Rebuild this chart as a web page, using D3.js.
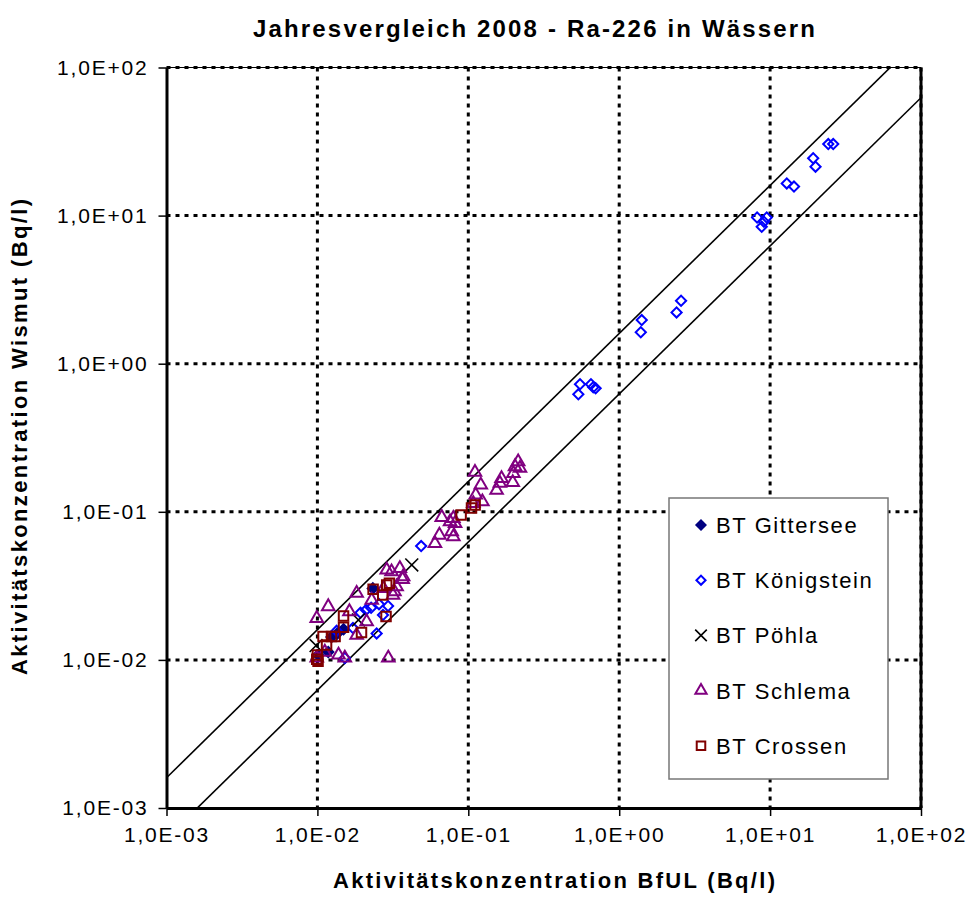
<!DOCTYPE html>
<html>
<head>
<meta charset="utf-8">
<title>Jahresvergleich 2008 - Ra-226 in Wässern</title>
<script src="https://d3js.org/d3.v7.min.js"></script>
<style>
body {
  margin: 0;
  background: #fff;
}
#chart text {
  font-family: Arial, "Liberation Sans", sans-serif;
  fill: #000;
}
</style>
</head>
<body>
<div id="chart"></div>
<script>
// [BfUL, Wismut] in Bq/l
var gittersee = [
  [0.0124, 0.0143], [0.0118, 0.0113], [0.0101, 0.0108], [0.0149, 0.0161],
  [0.0233, 0.0304], [0.0135, 0.0150]
];
var koenigstein = [
  [0.0134, 0.0157], [0.0172, 0.0164], [0.0193, 0.0208], [0.0210, 0.0217],
  [0.0227, 0.0225], [0.0256, 0.0238], [0.0294, 0.0231], [0.0272, 0.0201],
  [0.0247, 0.0151], [0.0152, 0.0103], [0.0487, 0.0587],
  [0.550, 0.726], [0.536, 0.621], [0.650, 0.726], [0.673, 0.694], [0.698, 0.683],
  [1.41, 1.97], [1.39, 1.63], [2.57, 2.66], [2.40, 2.22],
  [8.2, 9.7], [9.5, 9.7], [8.8, 8.4], [9.1, 9.1], [12.9, 16.5], [14.4, 15.7],
  [19.3, 24.4], [20.0, 21.4], [24.3, 30.4], [26.2, 30.4]
];
var poehla = [
  [0.0422, 0.0438], [0.0187, 0.0186], [0.0098, 0.0125]
];
var schlema = [
  [0.1107, 0.185], [0.121, 0.152], [0.112, 0.130], [0.124, 0.117], [0.108, 0.114],
  [0.154, 0.140], [0.162, 0.156], [0.166, 0.168], [0.197, 0.158], [0.199, 0.182],
  [0.214, 0.218], [0.220, 0.197], [0.204, 0.202],
  [0.0667, 0.0918], [0.0757, 0.0857], [0.0796, 0.0904], [0.0817, 0.0836],
  [0.0776, 0.0735], [0.0796, 0.0679], [0.0643, 0.0697], [0.0601, 0.0612],
  [0.0352, 0.0415], [0.0310, 0.0394], [0.0370, 0.0365], [0.0288, 0.0405],
  [0.0367, 0.0350], [0.0324, 0.0289], [0.0335, 0.0312], [0.0317, 0.0274],
  [0.0274, 0.0304], [0.0229, 0.0253], [0.0182, 0.0282], [0.0118, 0.0229],
  [0.0099, 0.0191], [0.0163, 0.0212], [0.0212, 0.0181], [0.0182, 0.0147],
  [0.0295, 0.0103], [0.0152, 0.0103], [0.0138, 0.0108], [0.0112, 0.0113],
  [0.0099, 0.0103]
];
var crossen = [
  [0.0896, 0.095], [0.105, 0.106], [0.111, 0.111], [0.0234, 0.0300],
  [0.0271, 0.0274], [0.0288, 0.0321], [0.0300, 0.0329], [0.0285, 0.0196],
  [0.0149, 0.0198], [0.0149, 0.0166], [0.0196, 0.0153], [0.0109, 0.0144],
  [0.0124, 0.0144], [0.0131, 0.0144], [0.0115, 0.0126], [0.0099, 0.0101],
  [0.0100, 0.0108], [0.0101, 0.0098]
];

var seriesNames = ["BT Gittersee", "BT Königstein", "BT Pöhla", "BT Schlema", "BT Crossen"];
var tickValues = [1e-3, 1e-2, 1e-1, 1e0, 1e1, 1e2];
var tickLabels = ["1,0E-03", "1,0E-02", "1,0E-01", "1,0E+00", "1,0E+01", "1,0E+02"];
var bandFactors = [1.6, 1 / 1.6];   // the two diagonal limit lines, y = f * x

var series = [
  {name: seriesNames[0], data: gittersee,   shape: "diamond",  color: "#000080", fill: true},
  {name: seriesNames[1], data: koenigstein, shape: "diamond",  color: "#0000ff", fill: false},
  {name: seriesNames[2], data: poehla,      shape: "times",    color: "#000000", fill: false},
  {name: seriesNames[3], data: schlema,     shape: "triangle", color: "#800080", fill: false},
  {name: seriesNames[4], data: crossen,     shape: "square",   color: "#800000", fill: false}
];

var W = 973, H = 908;
var plotL = 166.5, plotR = 921, plotT = 67.5, plotB = 808;

var svg = d3.select("#chart").append("svg")
  .attr("width", W)
  .attr("height", H);

var x = d3.scaleLog().domain([1e-3, 1e2]).range([plotL, plotR]);
var y = d3.scaleLog().domain([1e-3, 1e2]).range([plotB, plotT]);

// grid
svg.append("g").selectAll("line").data(tickValues.slice(1)).enter().append("line")
  .attr("x1", d => x(d)).attr("x2", d => x(d))
  .attr("y1", plotT).attr("y2", plotB)
  .attr("stroke", "#000").attr("stroke-width", 3).attr("stroke-dasharray", "4,5");
svg.append("g").selectAll("line").data(tickValues.slice(1)).enter().append("line")
  .attr("x1", plotL).attr("x2", plotR)
  .attr("y1", d => y(d)).attr("y2", d => y(d))
  .attr("stroke", "#000").attr("stroke-width", 3).attr("stroke-dasharray", "4,5");

// frame
svg.append("line").attr("x1", plotL).attr("x2", plotR).attr("y1", plotT).attr("y2", plotT)
  .attr("stroke", "#000").attr("stroke-width", 1);
svg.append("line").attr("x1", plotR).attr("x2", plotR).attr("y1", plotT).attr("y2", plotB)
  .attr("stroke", "#000").attr("stroke-width", 3);

// diagonal limit lines
svg.append("clipPath").attr("id", "plotclip").append("rect")
  .attr("x", plotL).attr("y", plotT).attr("width", plotR - plotL).attr("height", plotB - plotT);
var lineGen = d3.line().x(d => x(d[0])).y(d => y(d[1]));
svg.append("g").attr("clip-path", "url(#plotclip)")
  .selectAll("path").data(bandFactors).enter().append("path")
  .attr("d", f => lineGen(x.domain().map(v => [v, v * f])))
  .attr("fill", "none").attr("stroke", "#000").attr("stroke-width", 1.6);

// axes
var fmt = d => tickLabels[tickValues.indexOf(d)];
var xAxis = svg.append("g")
  .attr("transform", "translate(0," + plotB + ")")
  .call(d3.axisBottom(x).tickValues(tickValues).tickFormat(fmt).tickSize(8).tickSizeOuter(0));
var yAxis = svg.append("g")
  .attr("transform", "translate(" + plotL + ",0)")
  .call(d3.axisLeft(y).tickValues(tickValues).tickFormat(fmt).tickSize(8).tickSizeOuter(0));
[xAxis, yAxis].forEach(function (g) {
  g.select(".domain").attr("stroke", "#000").attr("stroke-width", 3);
  g.selectAll(".tick line").attr("stroke", "#000").attr("stroke-width", 1.5);
  g.selectAll(".tick text")
    .style("font-size", "21px")
    .style("letter-spacing", "1.8px")
    .attr("fill", "#000");
});
xAxis.selectAll(".tick text").attr("y", 19);
yAxis.selectAll(".tick text").attr("x", -18);

// markers
function symbolPath(shape, scale) {
  var s = scale || 1;
  if (shape === "diamond") return d3.symbol(d3.symbolSquare, 52 * s * s)();
  if (shape === "triangle") return d3.symbol(d3.symbolTriangle, 68 * s * s)();
  if (shape === "square") return d3.symbol(d3.symbolSquare, 90 * s * s)();
  return d3.symbol(d3.symbolTimes || d3.symbolCross, 110 * s * s)();
}
function drawMark(sel, sr, scale) {
  sel.attr("d", symbolPath(sr.shape, scale))
    .attr("fill", sr.fill ? sr.color : "none")
    .attr("stroke", sr.color)
    .attr("stroke-width", sr.shape === "times" ? 1.6 : 2)
    .attr("stroke-linejoin", "miter");
}

series.forEach(function (sr) {
  svg.append("g").selectAll("path").data(sr.data).enter().append("path")
    .attr("transform", d => "translate(" + x(d[0]) + "," + y(d[1]) + ")" + (sr.shape === "diamond" ? " rotate(45)" : ""))
    .call(drawMark, sr, 1);
});

// legend
var lg = svg.append("g").attr("transform", "translate(669,498)");
lg.append("rect").attr("width", 219).attr("height", 281)
  .attr("fill", "#fff").attr("stroke", "#777").attr("stroke-width", 1.5);
var item = lg.selectAll("g.item").data(series).enter().append("g")
  .attr("class", "item")
  .attr("transform", (d, i) => "translate(32," + (27 + i * 55.2) + ")");
item.append("path")
  .attr("transform", d => d.shape === "diamond" ? "rotate(45)" : null)
  .each(function (d) { d3.select(this).call(drawMark, d, 0.9); });
item.append("text")
  .attr("x", 15).attr("dy", "0.36em")
  .style("font-size", "22px")
  .style("letter-spacing", "1.6px")
  .text(d => d.name);

// titles
function fit(sel, len) {
  sel.attr("textLength", len).attr("lengthAdjust", "spacing");
}
svg.append("text")
  .attr("x", 534).attr("y", 37)
  .attr("text-anchor", "middle")
  .style("font-size", "24px").style("font-weight", "bold")
  .text("Jahresvergleich 2008 - Ra-226 in Wässern")
  .call(fit, 562);
svg.append("text")
  .attr("x", 554).attr("y", 888)
  .attr("text-anchor", "middle")
  .style("font-size", "22px").style("font-weight", "bold")
  .text("Aktivitätskonzentration BfUL (Bq/l)")
  .call(fit, 442);
svg.append("text")
  .attr("transform", "translate(27,437) rotate(-90)")
  .attr("text-anchor", "middle")
  .style("font-size", "22px").style("font-weight", "bold")
  .text("Aktivitätskonzentration Wismut (Bq/l)")
  .call(fit, 476);
</script>
</body>
</html>
